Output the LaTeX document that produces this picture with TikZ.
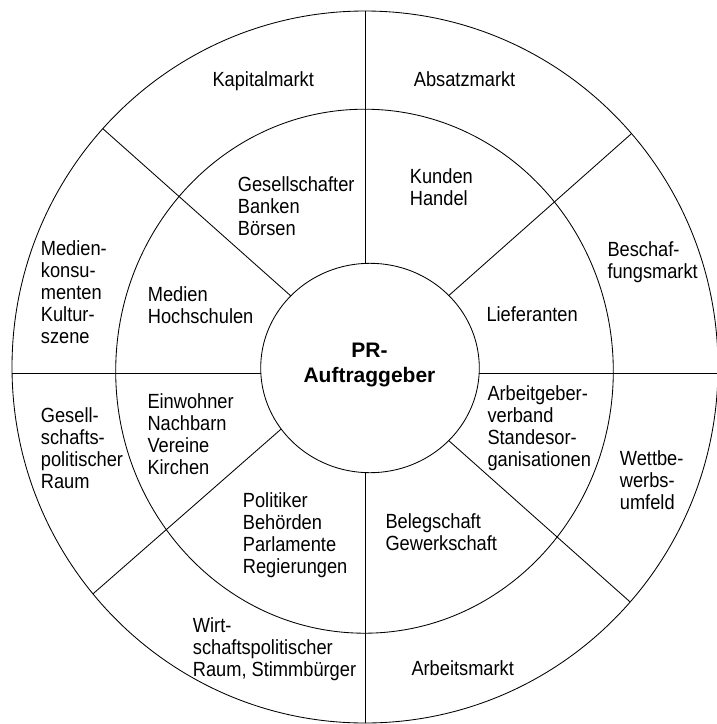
\documentclass[tikz,border=0pt]{standalone}
\usepackage{fontspec}
\setmainfont[FakeStretch=0.89]{Liberation Sans}
\newfontfamily\prfont{Liberation Sans}
\begin{document}
\begin{tikzpicture}[x=1pt,y=-1pt,
  ring/.style={line width=0.85pt},
  lbl/.style={font=\fontsize{20.5}{22}\selectfont, align=left, anchor=base west, inner sep=0pt},
  ctr/.style={font=\prfont\bfseries\fontsize{21}{25.4}\selectfont, align=center, anchor=base, inner sep=0pt}
  ]
\useasboundingbox (0,0) rectangle (717,724);
\fill[white] (0,0) rectangle (717,724);
% radial dividers, clipped to the outer ring
\begin{scope}
  \clip (365,367) ellipse [x radius=353pt, y radius=356pt];
  \draw[ring] (365,0) -- (365,724);
  \draw[ring] (0,373.3) -- (717,373.3);
  \draw[ring] (47,79) -- (346,345);
  \draw[ring] (692,80) -- (393,345);
  \draw[ring] (38,642) -- (336,381);
  \draw[ring] (393,391) -- (692,657);
\end{scope}
\fill[white] (370,368) ellipse [x radius=109.3pt, y radius=104.7pt];
% rings
\draw[ring] (365,367) ellipse [x radius=353pt, y radius=356pt];
\draw[ring] (364.5,371.2) ellipse [x radius=248.8pt, y radius=262pt];
\draw[ring] (370,368) ellipse [x radius=109.3pt, y radius=104.7pt];
% centre (base = baseline of last line)
\node[ctr] (pr) at (369.5,382.7) {PR-\\Auftraggeber};
% outer ring
\node[lbl] (kap) at (212.3,86.7) {Kapitalmarkt};
\node[lbl] (abs) at (413.7,86.7) {Absatzmarkt};
\node[lbl] (bes) at (607.3,278.7) {Beschaf-\\fungsmarkt};
\node[lbl] (wett) at (619.7,509.3) {Wettbe-\\werbs-\\umfeld};
\node[lbl] (arb) at (411.3,675.3) {Arbeitsmarkt};
\node[lbl] (wirt) at (192.7,676) {Wirt-\\schaftspolitischer\\Raum, Stimmbürger};
\node[lbl] (ges) at (40.7,488) {Gesell-\\schafts-\\politischer\\Raum};
\node[lbl] (med) at (40.7,343) {Medien-\\konsu-\\menten\\Kultur-\\szene};
% middle ring
\node[lbl] (gsl) at (237.7,235) {Gesellschafter\\Banken\\Börsen};
\node[lbl] (kun) at (409.7,205.3) {Kunden\\Handel};
\node[lbl] (lief) at (486.3,321.7) {Lieferanten};
\node[lbl] (agv) at (487.3,466.3) {Arbeitgeber-\\verband\\Standesor-\\ganisationen};
\node[lbl] (beleg) at (385.3,550.7) {Belegschaft\\Gewerkschaft};
\node[lbl] (pol) at (242.7,573) {Politiker\\Behörden\\Parlamente\\Regierungen};
\node[lbl] (einw) at (147.3,474.7) {Einwohner\\Nachbarn\\Vereine\\Kirchen};
\node[lbl] (hoch) at (147.7,323.7) {Medien\\Hochschulen};
\end{tikzpicture}
\end{document}
